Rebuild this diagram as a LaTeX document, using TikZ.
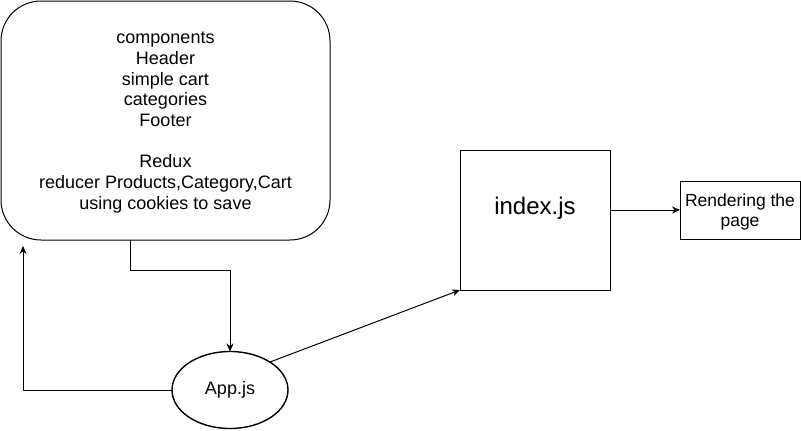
\documentclass[tikz,border=0pt]{standalone}
\usepackage{fontspec}
\setmainfont{Liberation Sans}
\usetikzlibrary{arrows.meta,shapes.geometric}
\tikzset{
  box/.style={draw, line width=1pt, inner sep=0pt, outer sep=0pt, align=center},
  lbl/.style={font=\fontsize{18}{20.7}\selectfont, align=center, inner sep=0pt},
  arr/.style={line width=1pt, -{Stealth[length=8pt,width=7pt]}},
}
\begin{document}
\begin{tikzpicture}[x=1pt,y=-1pt]
\useasboundingbox[fill=white] (0,0) rectangle (801,431);
\node[box, rounded corners=40pt, minimum width=329pt, minimum height=239pt] (main) at (165.5,120.5) {};
\node[lbl] (maintxt) at (165.5,122.5)
  {components\\Header\\simple cart\\categories\\Footer\\[20.7pt]Redux\\reducer Products,Category,Cart\\using cookies to save};
\node[box, ellipse, line width=1.4pt, minimum width=116pt, minimum height=77pt,
      font=\fontsize{18}{20.7}\selectfont] (app) at (230,390) {App.js};
\node[box, minimum width=150pt, minimum height=140pt] (index) at (535,220) {};
\node[lbl, font=\fontsize{24}{28}\selectfont] (indextxt) at (535,208) {index.js};
\node[box, minimum width=120pt, minimum height=58pt] (render) at (740,210) {};
\node[lbl, font=\fontsize{17.5}{19.5}\selectfont] (rendertxt) at (740,212) {Rendering the\\page};
\coordinate (ret) at (23,246);
\draw[arr] ([xshift=-35.5pt]main.south) -- ++(0,30) -| (app.north);
\draw[arr] (app.west) -| (ret);
\draw[arr] (app.35) -- (index.south west);
\draw[arr] (index.east |- render.west) -- (render.west);
\end{tikzpicture}
\end{document}
